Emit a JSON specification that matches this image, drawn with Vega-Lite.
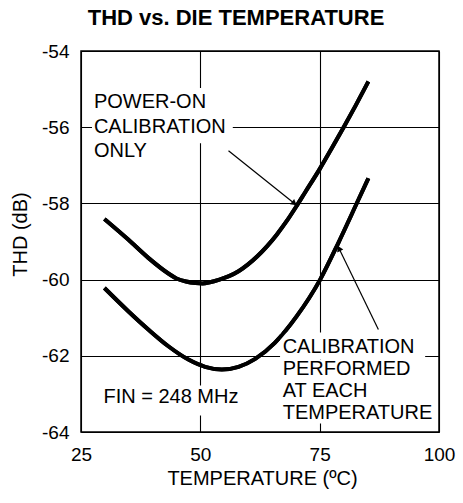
{
  "$schema": "https://vega.github.io/schema/vega-lite/v6.json",
  "autosize": "none",
  "width": 358,
  "height": 381,
  "padding": {"left": 81, "top": 51, "right": 24, "bottom": 71},
  "background": "white",
  "config": {
    "font": "Liberation Sans",
    "view": {"stroke": "black", "strokeWidth": 1.5},
    "axis": {
      "labelFont": "Liberation Sans",
      "labelFontSize": 19,
      "labelColor": "black",
      "labelFlush": false,
      "labelExpr": "'' + datum.value",
      "titleFont": "Liberation Sans",
      "titleFontSize": 20,
      "titleFontWeight": "normal",
      "titleColor": "black",
      "ticks": false,
      "domain": false,
      "grid": true,
      "gridColor": "black",
      "gridOpacity": 1,
      "gridWidth": 1.1
    }
  },
  "title": {
    "text": "THD vs. DIE TEMPERATURE",
    "font": "Liberation Sans",
    "fontSize": 22,
    "fontWeight": "bold",
    "color": "black",
    "anchor": "middle",
    "offset": 12,
    "dx": -24
  },
  "datasets": {
    "curves": [
      {"series": "Power-on calibration only", "t": 29.9, "thd": -58.41},
      {"series": "Power-on calibration only", "t": 34.9, "thd": -58.95},
      {"series": "Power-on calibration only", "t": 39.1, "thd": -59.43},
      {"series": "Power-on calibration only", "t": 43.3, "thd": -59.84},
      {"series": "Power-on calibration only", "t": 45.0, "thd": -59.97},
      {"series": "Power-on calibration only", "t": 47.0, "thd": -60.05},
      {"series": "Power-on calibration only", "t": 49.0, "thd": -60.09},
      {"series": "Power-on calibration only", "t": 50.5, "thd": -60.1},
      {"series": "Power-on calibration only", "t": 52.0, "thd": -60.07},
      {"series": "Power-on calibration only", "t": 54.0, "thd": -60.0},
      {"series": "Power-on calibration only", "t": 56.0, "thd": -59.91},
      {"series": "Power-on calibration only", "t": 58.0, "thd": -59.78},
      {"series": "Power-on calibration only", "t": 60.0, "thd": -59.6},
      {"series": "Power-on calibration only", "t": 62.0, "thd": -59.38},
      {"series": "Power-on calibration only", "t": 64.0, "thd": -59.12},
      {"series": "Power-on calibration only", "t": 66.0, "thd": -58.82},
      {"series": "Power-on calibration only", "t": 68.0, "thd": -58.48},
      {"series": "Power-on calibration only", "t": 70.0, "thd": -58.1},
      {"series": "Power-on calibration only", "t": 72.0, "thd": -57.7},
      {"series": "Power-on calibration only", "t": 75.0, "thd": -57.1},
      {"series": "Power-on calibration only", "t": 77.5, "thd": -56.56},
      {"series": "Power-on calibration only", "t": 80.0, "thd": -56.01},
      {"series": "Power-on calibration only", "t": 82.5, "thd": -55.44},
      {"series": "Power-on calibration only", "t": 85.2, "thd": -54.8},
      {"series": "Calibration performed at each temperature", "t": 29.9, "thd": -60.22},
      {"series": "Calibration performed at each temperature", "t": 34.9, "thd": -60.83},
      {"series": "Calibration performed at each temperature", "t": 39.1, "thd": -61.31},
      {"series": "Calibration performed at each temperature", "t": 43.3, "thd": -61.75},
      {"series": "Calibration performed at each temperature", "t": 47.5, "thd": -62.1},
      {"series": "Calibration performed at each temperature", "t": 51.0, "thd": -62.29},
      {"series": "Calibration performed at each temperature", "t": 54.5, "thd": -62.36},
      {"series": "Calibration performed at each temperature", "t": 58.0, "thd": -62.29},
      {"series": "Calibration performed at each temperature", "t": 61.5, "thd": -62.08},
      {"series": "Calibration performed at each temperature", "t": 65.6, "thd": -61.66},
      {"series": "Calibration performed at each temperature", "t": 70.2, "thd": -60.96},
      {"series": "Calibration performed at each temperature", "t": 75.1, "thd": -60.0},
      {"series": "Calibration performed at each temperature", "t": 78.9, "thd": -59.04},
      {"series": "Calibration performed at each temperature", "t": 82.8, "thd": -57.99},
      {"series": "Calibration performed at each temperature", "t": 85.2, "thd": -57.34}
    ],
    "masks": [
      {"t1": 27.3, "t2": 56.8, "y1": -54.97, "y2": -56.42},
      {"t1": 29.0, "t2": 59.2, "y1": -62.78, "y2": -63.57},
      {"t1": 66.7, "t2": 97.1, "y1": -61.39, "y2": -62.1},
      {"t1": 66.7, "t2": 99.69, "y1": -62.1, "y2": -63.78}
    ],
    "arrows": [
      {"id": "upper", "t": 55.9, "thd": -56.62, "t2": 70.5, "thd2": -58.08, "ht": 69.7, "hthd": -58.0},
      {"id": "lower", "t": 87.3, "thd": -61.31, "t2": 78.7, "thd2": -59.09, "ht": 79.05, "hthd": -59.18}
    ],
    "labels": [
      {"t": 27.7, "thd": -55.34, "text": "POWER-ON"},
      {"t": 27.7, "thd": -55.99, "text": "CALIBRATION"},
      {"t": 27.7, "thd": -56.63, "text": "ONLY"},
      {"t": 67.25, "thd": -61.76, "text": "CALIBRATION"},
      {"t": 67.25, "thd": -62.34, "text": "PERFORMED"},
      {"t": 67.25, "thd": -62.92, "text": "AT EACH"},
      {"t": 67.25, "thd": -63.49, "text": "TEMPERATURE"},
      {"t": 29.7, "thd": -63.08, "text": "FIN = 248 MHz"}
    ]
  },
  "layer": [
    {
      "data": {"name": "curves"},
      "mark": {"type": "line", "color": "black", "strokeWidth": 4, "interpolate": "monotone", "strokeCap": "butt"},
      "encoding": {
        "x": {
          "field": "t", "type": "quantitative",
          "scale": {"domain": [25, 100], "nice": false, "zero": false},
          "axis": {
            "values": [25, 50, 75, 100],
            "labelPadding": 13,
            "title": "TEMPERATURE (ºC)",
            "titleX": 181,
            "titleY": 46,
            "titleBaseline": "middle",
            "titleAlign": "center"
          }
        },
        "y": {
          "field": "thd", "type": "quantitative",
          "scale": {"domain": [-64, -54], "nice": false, "zero": false},
          "axis": {
            "values": [-64, -62, -60, -58, -56, -54],
            "labelPadding": 12,
            "title": "THD (dB)",
            "titleX": -61,
            "titleY": 183,
            "titleAngle": -90,
            "titleBaseline": "middle",
            "titleAlign": "center"
          }
        },
        "detail": {"field": "series"}
      }
    },
    {
      "data": {"name": "masks"},
      "mark": {"type": "rect", "fill": "white", "strokeWidth": 0},
      "encoding": {
        "x": {"field": "t1", "type": "quantitative"},
        "x2": {"field": "t2"},
        "y": {"field": "y1", "type": "quantitative"},
        "y2": {"field": "y2"}
      }
    },
    {
      "data": {"name": "curves"},
      "mark": {"type": "line", "color": "black", "strokeWidth": 4, "interpolate": "monotone", "strokeCap": "butt"},
      "encoding": {
        "x": {"field": "t", "type": "quantitative"},
        "y": {"field": "thd", "type": "quantitative"},
        "detail": {"field": "series"}
      }
    },
    {
      "data": {"name": "arrows"},
      "mark": {"type": "rule", "color": "black", "strokeWidth": 1.2},
      "encoding": {
        "x": {"field": "t", "type": "quantitative"},
        "x2": {"field": "t2"},
        "y": {"field": "thd", "type": "quantitative"},
        "y2": {"field": "thd2"}
      }
    },
    {
      "data": {"name": "arrows"},
      "transform": [{"filter": "datum.id === 'upper'"}],
      "mark": {"type": "point", "shape": "triangle-up", "filled": true, "color": "black", "opacity": 1, "size": 45, "angle": 128.5},
      "encoding": {
        "x": {"field": "ht", "type": "quantitative"},
        "y": {"field": "hthd", "type": "quantitative"}
      }
    },
    {
      "data": {"name": "arrows"},
      "transform": [{"filter": "datum.id === 'lower'"}],
      "mark": {"type": "point", "shape": "triangle-up", "filled": true, "color": "black", "opacity": 1, "size": 45, "angle": 334.3},
      "encoding": {
        "x": {"field": "ht", "type": "quantitative"},
        "y": {"field": "hthd", "type": "quantitative"}
      }
    },
    {
      "data": {"name": "labels"},
      "mark": {"type": "text", "align": "left", "baseline": "middle", "font": "Liberation Sans", "fontSize": 20, "color": "black"},
      "encoding": {
        "x": {"field": "t", "type": "quantitative"},
        "y": {"field": "thd", "type": "quantitative"},
        "text": {"field": "text"}
      }
    }
  ]
}
